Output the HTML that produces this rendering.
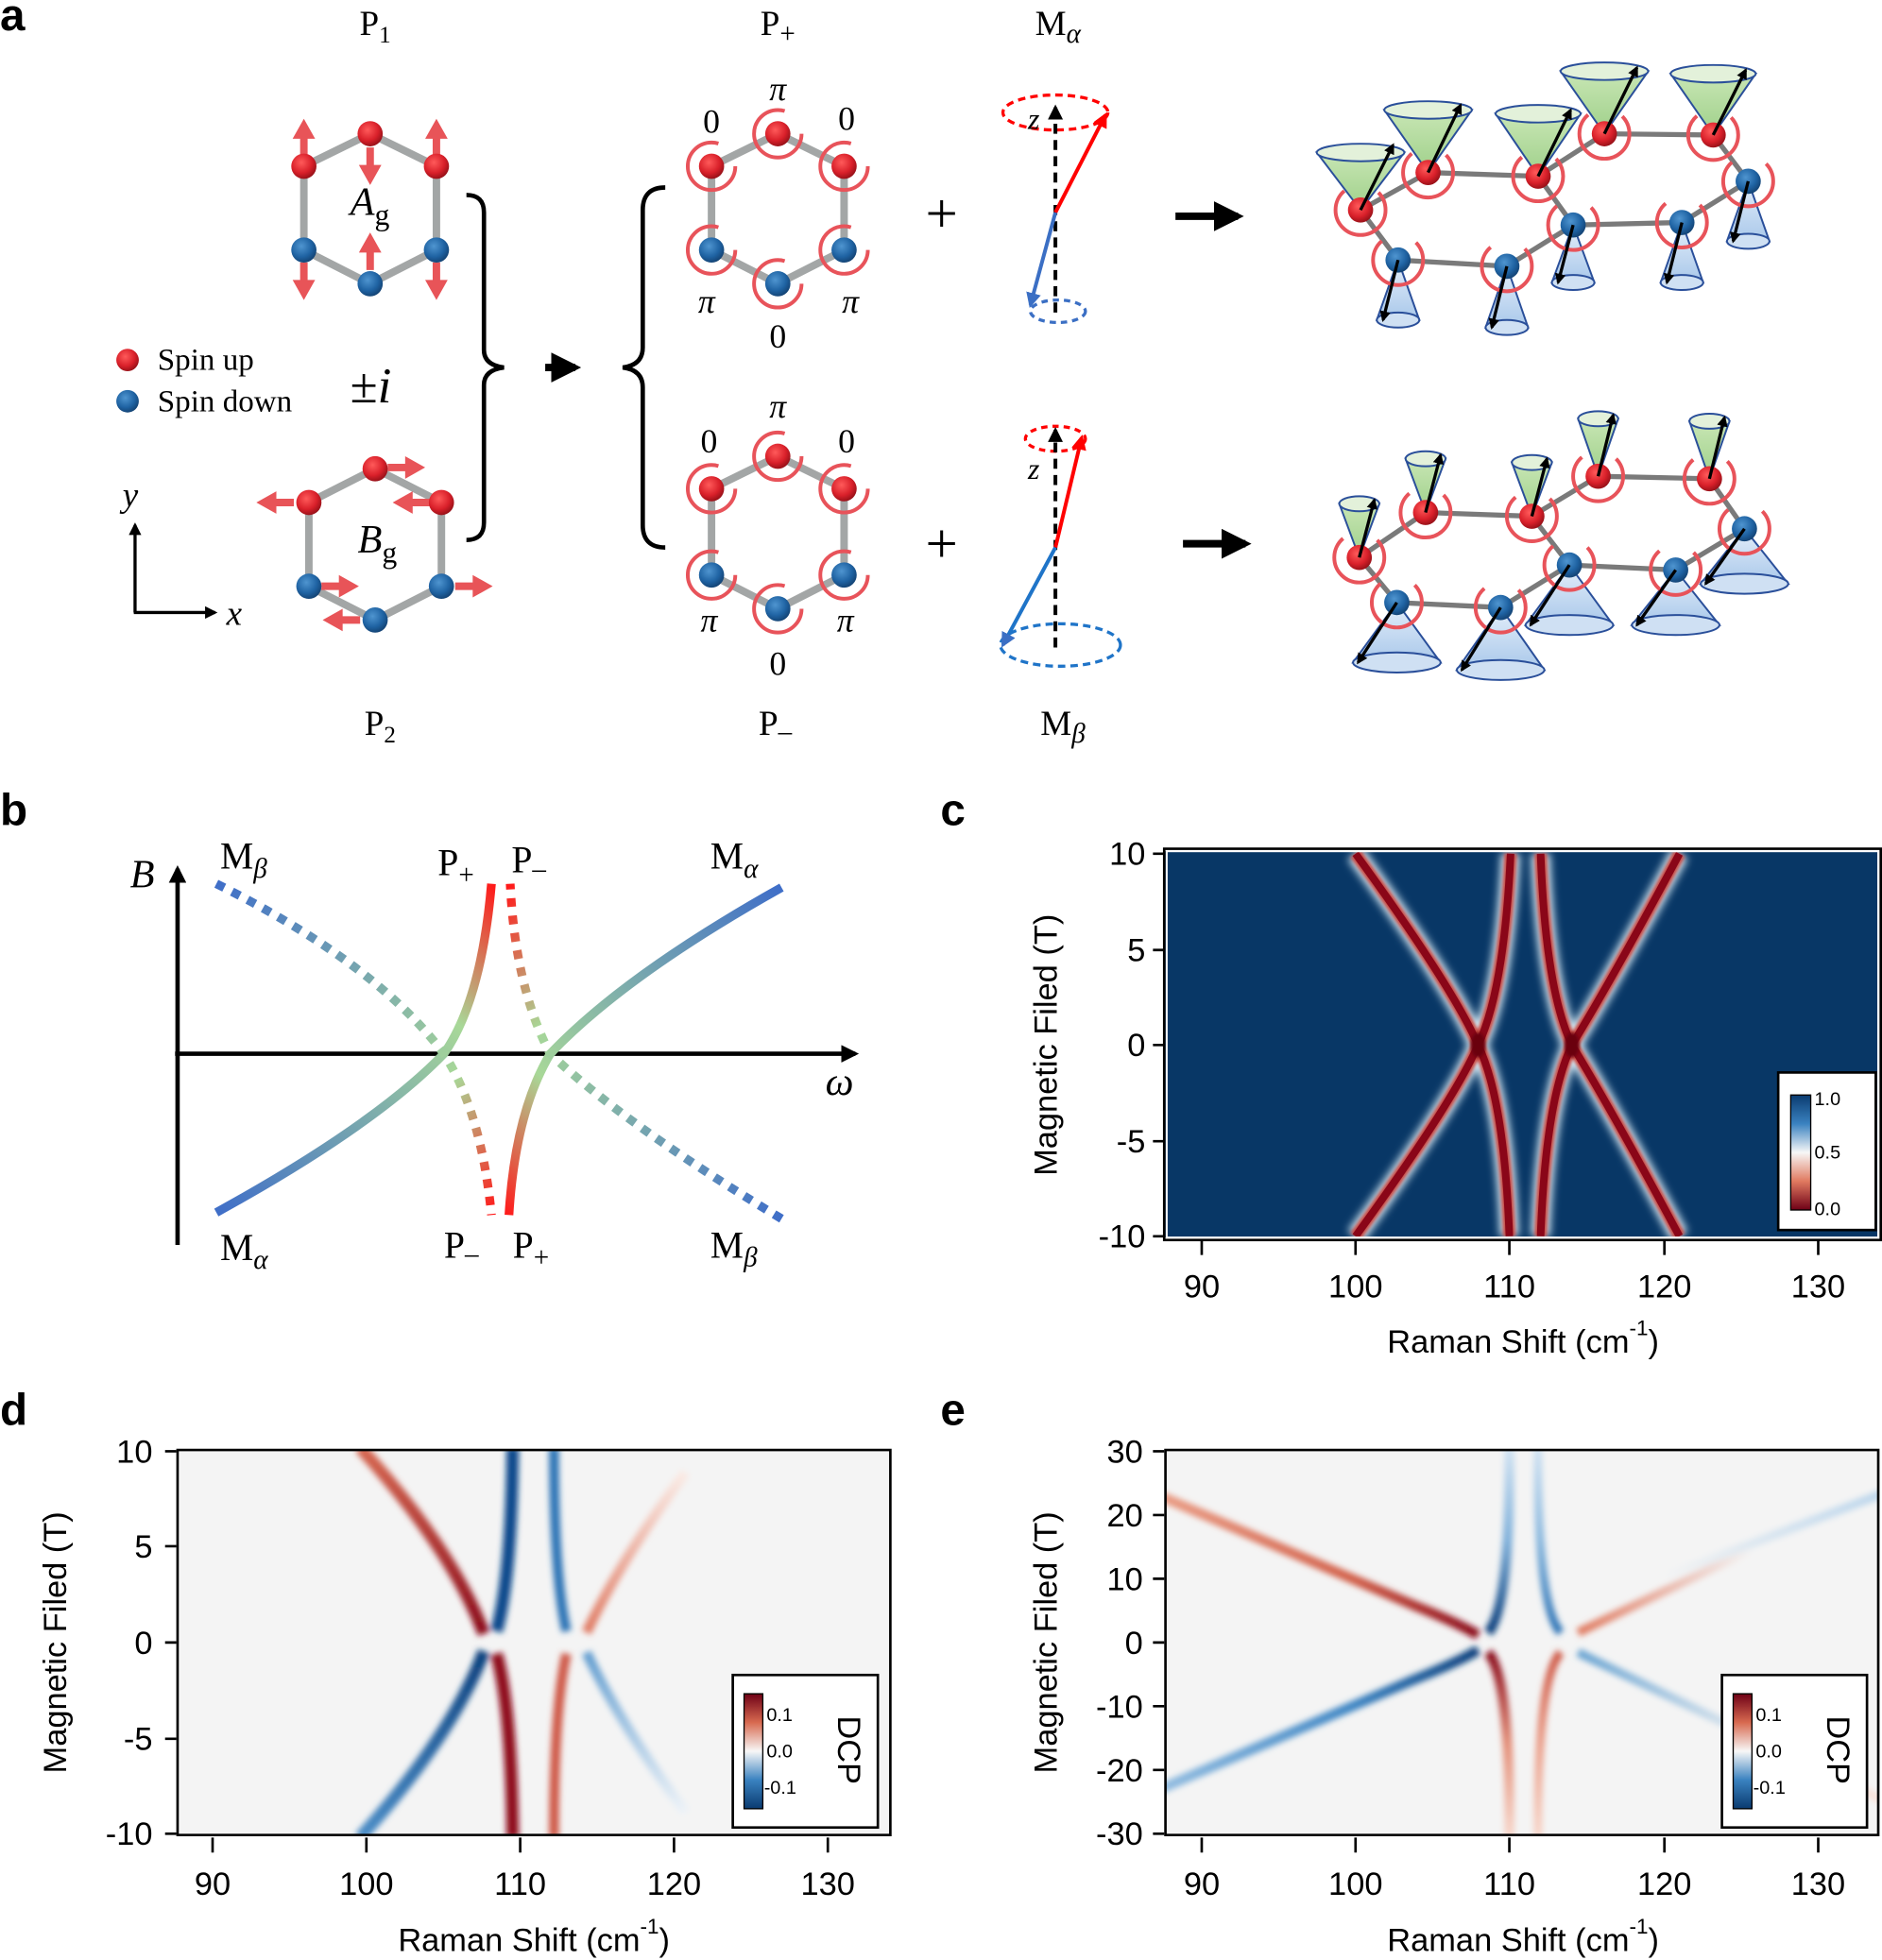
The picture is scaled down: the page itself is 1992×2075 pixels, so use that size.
<!DOCTYPE html>
<html><head><meta charset="utf-8"><style>
html,body{margin:0;padding:0;background:#fff;}
svg{display:block;}
.s{font-family:"Liberation Serif",serif;}
.a{font-family:"Liberation Sans",sans-serif;}
</style></head><body>
<svg width="1992" height="2075" viewBox="0 0 1505 1568" preserveAspectRatio="none" xmlns="http://www.w3.org/2000/svg">
<defs>
<radialGradient id="rs" cx="0.4" cy="0.35" r="0.7"><stop offset="0" stop-color="#ff5a5a"/><stop offset="0.6" stop-color="#d9202a"/><stop offset="1" stop-color="#8e0f16"/></radialGradient>
<radialGradient id="bs" cx="0.4" cy="0.35" r="0.7"><stop offset="0" stop-color="#4f95d0"/><stop offset="0.6" stop-color="#1f63a3"/><stop offset="1" stop-color="#123f6e"/></radialGradient>
<symbol id="R" viewBox="-12 -12 24 24" overflow="visible"><circle r="11" fill="url(#rs)"/></symbol>
<symbol id="B" viewBox="-12 -12 24 24" overflow="visible"><circle r="11" fill="url(#bs)"/></symbol>
<linearGradient id="gc" x1="0" y1="0" x2="0" y2="1"><stop offset="0" stop-color="#c8e6b4"/><stop offset="1" stop-color="#9fd08a"/></linearGradient>
<linearGradient id="bc" x1="0" y1="0" x2="0" y2="1"><stop offset="0" stop-color="#e4eefa"/><stop offset="1" stop-color="#a9c8ea"/></linearGradient>
<linearGradient id="cb1" x1="0" y1="0" x2="0" y2="1"><stop offset="0" stop-color="#0a3b70"/><stop offset="0.25" stop-color="#3a82c0"/><stop offset="0.5" stop-color="#f7f7f7"/><stop offset="0.75" stop-color="#e07a60"/><stop offset="1" stop-color="#6e0016"/></linearGradient>
<linearGradient id="cb2" x1="0" y1="0" x2="0" y2="1"><stop offset="0" stop-color="#6e0016"/><stop offset="0.25" stop-color="#d86a50"/><stop offset="0.5" stop-color="#f7f7f7"/><stop offset="0.75" stop-color="#3a82c0"/><stop offset="1" stop-color="#0a3b70"/></linearGradient>
<filter id="bl" x="-20%" y="-20%" width="140%" height="140%"><feGaussianBlur stdDeviation="2.5"/></filter>
<filter id="bl3" x="-20%" y="-20%" width="140%" height="140%"><feGaussianBlur stdDeviation="3.5"/></filter>
<filter id="bl2" x="-20%" y="-20%" width="140%" height="140%"><feGaussianBlur stdDeviation="1.2"/></filter>
<clipPath id="cc"><rect x="932" y="681" width="570" height="309"/></clipPath>
<clipPath id="cd"><rect x="142" y="1160" width="570" height="308"/></clipPath>
<clipPath id="ce"><rect x="932" y="1160" width="570" height="308"/></clipPath>
<linearGradient id="g1" gradientUnits="userSpaceOnUse" x1="173" y1="970" x2="393" y2="707"><stop offset="0" stop-color="#3f6ec8"/><stop offset="0.7" stop-color="#a8d898"/><stop offset="1" stop-color="#ff1a1a"/></linearGradient>
<linearGradient id="g2" gradientUnits="userSpaceOnUse" x1="625" y1="710" x2="405" y2="972"><stop offset="0" stop-color="#3f6ec8"/><stop offset="0.7" stop-color="#a8d898"/><stop offset="1" stop-color="#ff1a1a"/></linearGradient>
<linearGradient id="g3" gradientUnits="userSpaceOnUse" x1="173" y1="707" x2="393" y2="972"><stop offset="0" stop-color="#3f6ec8"/><stop offset="0.7" stop-color="#a8d898"/><stop offset="1" stop-color="#ff1a1a"/></linearGradient>
<linearGradient id="g4" gradientUnits="userSpaceOnUse" x1="625" y1="975" x2="410" y2="707"><stop offset="0" stop-color="#3f6ec8"/><stop offset="0.7" stop-color="#a8d898"/><stop offset="1" stop-color="#ff1a1a"/></linearGradient>
<!-- d gradients -->
<linearGradient id="dRt" gradientUnits="userSpaceOnUse" x1="0" y1="1160" x2="0" y2="1310"><stop offset="0" stop-color="#d56650"/><stop offset="1" stop-color="#8a0a1a"/></linearGradient>
<linearGradient id="dBb" gradientUnits="userSpaceOnUse" x1="0" y1="1468" x2="0" y2="1318"><stop offset="0" stop-color="#4a8cc6"/><stop offset="1" stop-color="#0b3f7c"/></linearGradient>
<linearGradient id="dRr" gradientUnits="userSpaceOnUse" x1="0" y1="1180" x2="0" y2="1310"><stop offset="0" stop-color="#faeae4"/><stop offset="1" stop-color="#df7860"/></linearGradient>
<linearGradient id="dBr" gradientUnits="userSpaceOnUse" x1="0" y1="1450" x2="0" y2="1318"><stop offset="0" stop-color="#eef3f8"/><stop offset="1" stop-color="#5e9bcf"/></linearGradient>
<linearGradient id="eRl" gradientUnits="userSpaceOnUse" x1="932" y1="0" x2="1182" y2="0"><stop offset="0" stop-color="#e99a82"/><stop offset="0.6" stop-color="#d2604a"/><stop offset="1" stop-color="#8a0a1a"/></linearGradient>
<linearGradient id="eBl" gradientUnits="userSpaceOnUse" x1="932" y1="0" x2="1182" y2="0"><stop offset="0" stop-color="#8fbbe0"/><stop offset="0.6" stop-color="#3f86c4"/><stop offset="1" stop-color="#0b3f7c"/></linearGradient>
<linearGradient id="eBt" gradientUnits="userSpaceOnUse" x1="0" y1="1160" x2="0" y2="1306"><stop offset="0" stop-color="#d0e2f2"/><stop offset="0.5" stop-color="#7fb0da"/><stop offset="1" stop-color="#0b3f7c"/></linearGradient>
<linearGradient id="eBt2" gradientUnits="userSpaceOnUse" x1="0" y1="1160" x2="0" y2="1306"><stop offset="0" stop-color="#d0e2f2"/><stop offset="0.5" stop-color="#8ab8de"/><stop offset="1" stop-color="#2e74b6"/></linearGradient>
<linearGradient id="eRb" gradientUnits="userSpaceOnUse" x1="0" y1="1468" x2="0" y2="1322"><stop offset="0" stop-color="#f7d6ca"/><stop offset="0.5" stop-color="#e4907a"/><stop offset="1" stop-color="#8a0a1a"/></linearGradient>
<linearGradient id="eRb2" gradientUnits="userSpaceOnUse" x1="0" y1="1468" x2="0" y2="1322"><stop offset="0" stop-color="#f7d6ca"/><stop offset="0.5" stop-color="#eba28e"/><stop offset="1" stop-color="#cf5a48"/></linearGradient>
<linearGradient id="eRr" gradientUnits="userSpaceOnUse" x1="1262" y1="0" x2="1400" y2="0"><stop offset="0" stop-color="#e07a60"/><stop offset="1" stop-color="#f4f4f4"/></linearGradient>
<linearGradient id="eBr" gradientUnits="userSpaceOnUse" x1="1262" y1="0" x2="1420" y2="0"><stop offset="0" stop-color="#6aa4d2"/><stop offset="1" stop-color="#f4f4f4"/></linearGradient>
<linearGradient id="eBr2" gradientUnits="userSpaceOnUse" x1="1330" y1="0" x2="1505" y2="0"><stop offset="0" stop-color="#f4f4f4"/><stop offset="1" stop-color="#bcd6ec"/></linearGradient>
<marker id="ar" viewBox="0 0 10 10" refX="8" refY="5" markerWidth="4" markerHeight="4" orient="auto"><path d="M0,0L10,5L0,10z" fill="#000"/></marker>
<marker id="arR" viewBox="0 0 10 10" refX="8" refY="5" markerWidth="4" markerHeight="4" orient="auto"><path d="M0,0L10,5L0,10z" fill="#f00"/></marker>
<marker id="arB" viewBox="0 0 10 10" refX="8" refY="5" markerWidth="4" markerHeight="4" orient="auto"><path d="M0,0L10,5L0,10z" fill="#3b6fc4"/></marker>
<marker id="arK" viewBox="0 0 10 10" refX="8" refY="5" markerWidth="3.5" markerHeight="3.5" orient="auto"><path d="M0,0L10,5L0,10z" fill="#000"/></marker>
</defs>

<!-- ================= PANEL A ================= -->
<text x="0" y="24" class="a" font-size="36" font-weight="bold">a</text>
<g class="s" font-size="28" text-anchor="middle">
<text x="300" y="28">P<tspan font-size="19" dy="6">1</tspan></text>
<text x="622" y="28">P<tspan font-size="22" dy="6">+</tspan></text>
<text x="846" y="28">M<tspan font-size="22" dy="6" font-style="italic">α</tspan></text>
<text x="304" y="588">P<tspan font-size="19" dy="6">2</tspan></text>
<text x="620" y="588">P<tspan font-size="22" dy="4">–</tspan></text>
<text x="850" y="588">M<tspan font-size="22" dy="6" font-style="italic">β</tspan></text>
</g>
<polygon points="296,107 349,133 349,200 296,227 243,200 243,133" fill="none" stroke="#a3a6a6" stroke-width="6"/>
<g fill="#e85458">
<path d="M243,95 l-9,16 h6 v14 h6 v-14 h6z"/><path d="M349,95 l-9,16 h6 v14 h6 v-14 h6z"/>
<path d="M296,148 l-9,-16 h6 v-14 h6 v14 h6z"/>
<path d="M243,240 l-9,-16 h6 v-14 h6 v14 h6z"/><path d="M349,240 l-9,-16 h6 v-14 h6 v14 h6z"/>
<path d="M296,186 l-9,16 h6 v14 h6 v-14 h6z"/>
</g>
<use href="#R" x="285" y="96" width="22" height="22"/><use href="#R" x="232" y="122" width="22" height="22"/><use href="#R" x="338" y="122" width="22" height="22"/>
<use href="#B" x="232" y="189" width="22" height="22"/><use href="#B" x="338" y="189" width="22" height="22"/><use href="#B" x="285" y="216" width="22" height="22"/>
<text x="280" y="172" class="s" font-size="32" font-style="italic">A<tspan font-size="24" font-style="normal" dy="8">g</tspan></text>
<polygon points="300,375 353,402 353,469 300,496 247,469 247,402" fill="none" stroke="#a3a6a6" stroke-width="6"/>
<g fill="#e85458">
<path d="M340,374 l-16,-9 v6 h-14 v6 h14 v6z"/>
<path d="M205,402 l16,-9 v6 h14 v6 h-14 v6z"/>
<path d="M314,402 l16,-9 v6 h14 v6 h-14 v6z"/>
<path d="M287,469 l-16,-9 v6 h-14 v6 h14 v6z"/>
<path d="M394,469 l-16,-9 v6 h-14 v6 h14 v6z"/>
<path d="M258,496 l16,-9 v6 h14 v6 h-14 v6z"/>
</g>
<use href="#R" x="289" y="364" width="22" height="22"/><use href="#R" x="236" y="391" width="22" height="22"/><use href="#R" x="342" y="391" width="22" height="22"/>
<use href="#B" x="236" y="458" width="22" height="22"/><use href="#B" x="342" y="458" width="22" height="22"/><use href="#B" x="289" y="485" width="22" height="22"/>
<text x="286" y="442" class="s" font-size="32" font-style="italic">B<tspan font-size="24" font-style="normal" dy="8">g</tspan></text>
<circle cx="102" cy="288" r="9" fill="url(#rs)"/><circle cx="102" cy="321" r="9" fill="url(#bs)"/>
<text x="126" y="296" class="s" font-size="25">Spin up</text>
<text x="126" y="329" class="s" font-size="25">Spin down</text>
<text x="280" y="322" class="s" font-size="40">±<tspan font-style="italic">i</tspan></text>
<path d="M108,490 V420" stroke="#000" stroke-width="2.5" marker-end="url(#ar)"/>
<path d="M107,490 H172" stroke="#000" stroke-width="2.5" marker-end="url(#ar)"/>
<text x="98" y="405" class="s" font-size="28" font-style="italic">y</text>
<text x="181" y="500" class="s" font-size="28" font-style="italic">x</text>
<path d="M373,156 q14,0 14,14 v110 q0,12 16,14 q-16,2 -16,14 v110 q0,14 -14,14" fill="none" stroke="#000" stroke-width="3.5"/>
<path d="M532,150 q-18,0 -18,18 v110 q0,14 -16,16 q16,2 16,16 v110 q0,18 18,18" fill="none" stroke="#000" stroke-width="3.5"/>
<path d="M436,294 H460" stroke="#000" stroke-width="6" marker-end="url(#ar)"/>
<polygon points="622,107 675,133 675,200 622,227 569,200 569,133" fill="none" stroke="#a3a6a6" stroke-width="6"/>
<g fill="none" stroke="#e8535a" stroke-width="3">
<circle cx="622" cy="107" r="19" stroke-dasharray="95 25"/><circle cx="675" cy="133" r="19" stroke-dasharray="95 25"/><circle cx="569" cy="133" r="19" stroke-dasharray="95 25"/>
<circle cx="675" cy="200" r="19" stroke-dasharray="95 25"/><circle cx="569" cy="200" r="19" stroke-dasharray="95 25"/><circle cx="622" cy="227" r="19" stroke-dasharray="95 25"/>
</g>
<use href="#R" x="611" y="96" width="22" height="22"/><use href="#R" x="558" y="122" width="22" height="22"/><use href="#R" x="664" y="122" width="22" height="22"/>
<use href="#B" x="558" y="189" width="22" height="22"/><use href="#B" x="664" y="189" width="22" height="22"/><use href="#B" x="611" y="216" width="22" height="22"/>
<g class="s" font-size="27" text-anchor="middle"><text x="622" y="80" font-style="italic">π</text><text x="569" y="106">0</text><text x="677" y="104">0</text><text x="565" y="250" font-style="italic">π</text><text x="680" y="250" font-style="italic">π</text><text x="622" y="278">0</text></g>
<polygon points="622,365 675,391 675,460 622,487 569,460 569,391" fill="none" stroke="#a3a6a6" stroke-width="6"/>
<g fill="none" stroke="#e8535a" stroke-width="3">
<circle cx="622" cy="365" r="19" stroke-dasharray="95 25"/><circle cx="675" cy="391" r="19" stroke-dasharray="95 25"/><circle cx="569" cy="391" r="19" stroke-dasharray="95 25"/>
<circle cx="675" cy="460" r="19" stroke-dasharray="95 25"/><circle cx="569" cy="460" r="19" stroke-dasharray="95 25"/><circle cx="622" cy="487" r="19" stroke-dasharray="95 25"/>
</g>
<use href="#R" x="611" y="354" width="22" height="22"/><use href="#R" x="558" y="380" width="22" height="22"/><use href="#R" x="664" y="380" width="22" height="22"/>
<use href="#B" x="558" y="449" width="22" height="22"/><use href="#B" x="664" y="449" width="22" height="22"/><use href="#B" x="611" y="476" width="22" height="22"/>
<g class="s" font-size="27" text-anchor="middle"><text x="622" y="334" font-style="italic">π</text><text x="567" y="362">0</text><text x="677" y="362">0</text><text x="567" y="505" font-style="italic">π</text><text x="676" y="505" font-style="italic">π</text><text x="622" y="540">0</text></g>
<text x="753" y="186" class="s" font-size="46" text-anchor="middle">+</text>
<text x="753" y="450" class="s" font-size="46" text-anchor="middle">+</text>
<ellipse cx="844" cy="90" rx="42" ry="14" fill="none" stroke="#f00" stroke-width="2.5" stroke-dasharray="6 4"/>
<ellipse cx="846" cy="249" rx="22" ry="9" fill="none" stroke="#3b6fc4" stroke-width="2.5" stroke-dasharray="5 4"/>
<path d="M844,250 V86" stroke="#000" stroke-width="3" stroke-dasharray="8 5" marker-end="url(#ar)"/>
<path d="M844,170 L884,92" stroke="#f00" stroke-width="3" marker-end="url(#arR)"/>
<path d="M844,170 L824,244" stroke="#3b6fc4" stroke-width="3" marker-end="url(#arB)"/>
<text x="822" y="103" class="s" font-size="24" font-style="italic">z</text>
<ellipse cx="844" cy="351" rx="24" ry="10" fill="none" stroke="#f00" stroke-width="2.5" stroke-dasharray="5 4"/>
<ellipse cx="848" cy="516" rx="48" ry="17" fill="none" stroke="#1f74c8" stroke-width="2.5" stroke-dasharray="6 4"/>
<path d="M844,518 V344" stroke="#000" stroke-width="3" stroke-dasharray="8 5" marker-end="url(#ar)"/>
<path d="M844,438 L865,350" stroke="#f00" stroke-width="3" marker-end="url(#arR)"/>
<path d="M844,438 L802,516" stroke="#1f74c8" stroke-width="3" marker-end="url(#arB)"/>
<text x="822" y="383" class="s" font-size="24" font-style="italic">z</text>
<path d="M940,173 H990" stroke="#000" stroke-width="6" marker-end="url(#ar)"/>
<path d="M946,435 H996" stroke="#000" stroke-width="6" marker-end="url(#ar)"/>
<!-- upper lattice -->
<g stroke="#7a7a7a" stroke-width="4" fill="none">
<path d="M1088,168 L1142,138 L1230,141 L1283,107 L1370,108 L1398,145 L1345,178 L1258,180 L1205,213 L1118,208 L1088,168"/>
<path d="M1230,141 L1258,180"/>
</g>
<g stroke="#2a4f9a" stroke-width="1.5">
<path d="M1053,122 L1088,168 L1123,122z" fill="url(#gc)"/><ellipse cx="1088" cy="122" rx="35" ry="7" fill="#e3f1da"/>
<path d="M1107,88 L1142,138 L1177,88z" fill="url(#gc)"/><ellipse cx="1142" cy="88" rx="35" ry="7" fill="#e3f1da"/>
<path d="M1196,91 L1230,141 L1264,91z" fill="url(#gc)"/><ellipse cx="1230" cy="91" rx="34" ry="7" fill="#e3f1da"/>
<path d="M1248,57 L1283,107 L1318,57z" fill="url(#gc)"/><ellipse cx="1283" cy="57" rx="35" ry="7" fill="#e3f1da"/>
<path d="M1336,59 L1370,108 L1404,59z" fill="url(#gc)"/><ellipse cx="1370" cy="59" rx="34" ry="7" fill="#e3f1da"/>
<path d="M1118,208 L1101,256 L1135,256z" fill="url(#bc)"/><ellipse cx="1118" cy="256" rx="17" ry="6" fill="#cfe0f3"/>
<path d="M1205,213 L1188,262 L1222,262z" fill="url(#bc)"/><ellipse cx="1205" cy="262" rx="17" ry="6" fill="#cfe0f3"/>
<path d="M1258,180 L1241,226 L1275,226z" fill="url(#bc)"/><ellipse cx="1258" cy="226" rx="17" ry="6" fill="#cfe0f3"/>
<path d="M1345,178 L1328,226 L1362,226z" fill="url(#bc)"/><ellipse cx="1345" cy="226" rx="17" ry="6" fill="#cfe0f3"/>
<path d="M1398,145 L1381,193 L1415,193z" fill="url(#bc)"/><ellipse cx="1398" cy="193" rx="17" ry="6" fill="#cfe0f3"/>
</g>
<g fill="none" stroke="#e8535a" stroke-width="3" stroke-dasharray="80 30">
<circle cx="1088" cy="168" r="20"/><circle cx="1142" cy="138" r="20"/><circle cx="1230" cy="141" r="20"/><circle cx="1283" cy="107" r="20"/><circle cx="1370" cy="108" r="20"/>
<circle cx="1118" cy="208" r="20"/><circle cx="1205" cy="213" r="20"/><circle cx="1258" cy="180" r="20"/><circle cx="1345" cy="178" r="20"/><circle cx="1398" cy="145" r="20"/>
</g>
<use href="#R" x="1077" y="157" width="22" height="22"/><use href="#R" x="1131" y="127" width="22" height="22"/><use href="#R" x="1219" y="130" width="22" height="22"/><use href="#R" x="1272" y="96" width="22" height="22"/><use href="#R" x="1359" y="97" width="22" height="22"/>
<use href="#B" x="1107" y="197" width="22" height="22"/><use href="#B" x="1194" y="202" width="22" height="22"/><use href="#B" x="1247" y="169" width="22" height="22"/><use href="#B" x="1334" y="167" width="22" height="22"/><use href="#B" x="1387" y="134" width="22" height="22"/>
<g stroke="#000" stroke-width="2.5">
<path d="M1088,168 L1114,116" marker-end="url(#arK)"/><path d="M1142,138 L1168,84" marker-end="url(#arK)"/><path d="M1230,141 L1256,88" marker-end="url(#arK)"/><path d="M1283,107 L1309,54" marker-end="url(#arK)"/><path d="M1370,108 L1396,56" marker-end="url(#arK)"/>
<path d="M1118,208 L1106,256" marker-end="url(#arK)"/><path d="M1205,213 L1193,262" marker-end="url(#arK)"/><path d="M1258,180 L1246,226" marker-end="url(#arK)"/><path d="M1345,178 L1333,226" marker-end="url(#arK)"/><path d="M1398,145 L1386,193" marker-end="url(#arK)"/>
</g>
<!-- lower lattice -->
<g stroke="#7a7a7a" stroke-width="4" fill="none">
<path d="M1087,446 L1140,410 L1225,413 L1278,381 L1367,383 L1395,423 L1340,456 L1255,452 L1200,486 L1117,482 L1087,446"/>
<path d="M1225,413 L1255,452"/>
</g>
<g stroke="#2a4f9a" stroke-width="1.5">
<path d="M1071,403 L1087,446 L1103,403z" fill="url(#gc)"/><ellipse cx="1087" cy="403" rx="16" ry="6" fill="#e3f1da"/>
<path d="M1124,367 L1140,410 L1156,367z" fill="url(#gc)"/><ellipse cx="1140" cy="367" rx="16" ry="6" fill="#e3f1da"/>
<path d="M1209,370 L1225,413 L1241,370z" fill="url(#gc)"/><ellipse cx="1225" cy="370" rx="16" ry="6" fill="#e3f1da"/>
<path d="M1262,335 L1278,381 L1294,335z" fill="url(#gc)"/><ellipse cx="1278" cy="335" rx="16" ry="6" fill="#e3f1da"/>
<path d="M1351,337 L1367,383 L1383,337z" fill="url(#gc)"/><ellipse cx="1367" cy="337" rx="16" ry="6" fill="#e3f1da"/>
<path d="M1117,482 L1082,530 L1152,530z" fill="url(#bc)"/><ellipse cx="1117" cy="530" rx="35" ry="8" fill="#cfe0f3"/>
<path d="M1200,486 L1165,536 L1235,536z" fill="url(#bc)"/><ellipse cx="1200" cy="536" rx="35" ry="8" fill="#cfe0f3"/>
<path d="M1255,452 L1220,500 L1290,500z" fill="url(#bc)"/><ellipse cx="1255" cy="500" rx="35" ry="8" fill="#cfe0f3"/>
<path d="M1340,456 L1305,500 L1375,500z" fill="url(#bc)"/><ellipse cx="1340" cy="500" rx="35" ry="8" fill="#cfe0f3"/>
<path d="M1395,423 L1360,467 L1430,467z" fill="url(#bc)"/><ellipse cx="1395" cy="467" rx="35" ry="8" fill="#cfe0f3"/>
</g>
<g fill="none" stroke="#e8535a" stroke-width="3" stroke-dasharray="80 30">
<circle cx="1087" cy="446" r="20"/><circle cx="1140" cy="410" r="20"/><circle cx="1225" cy="413" r="20"/><circle cx="1278" cy="381" r="20"/><circle cx="1367" cy="383" r="20"/>
<circle cx="1117" cy="482" r="20"/><circle cx="1200" cy="486" r="20"/><circle cx="1255" cy="452" r="20"/><circle cx="1340" cy="456" r="20"/><circle cx="1395" cy="423" r="20"/>
</g>
<use href="#R" x="1076" y="435" width="22" height="22"/><use href="#R" x="1129" y="399" width="22" height="22"/><use href="#R" x="1214" y="402" width="22" height="22"/><use href="#R" x="1267" y="370" width="22" height="22"/><use href="#R" x="1356" y="372" width="22" height="22"/>
<use href="#B" x="1106" y="471" width="22" height="22"/><use href="#B" x="1189" y="475" width="22" height="22"/><use href="#B" x="1244" y="441" width="22" height="22"/><use href="#B" x="1329" y="445" width="22" height="22"/><use href="#B" x="1384" y="412" width="22" height="22"/>
<g stroke="#000" stroke-width="2.5">
<path d="M1087,446 L1099,400" marker-end="url(#arK)"/><path d="M1140,410 L1152,364" marker-end="url(#arK)"/><path d="M1225,413 L1237,367" marker-end="url(#arK)"/><path d="M1278,381 L1290,332" marker-end="url(#arK)"/><path d="M1367,383 L1379,334" marker-end="url(#arK)"/>
<path d="M1117,482 L1086,530" marker-end="url(#arK)"/><path d="M1200,486 L1169,536" marker-end="url(#arK)"/><path d="M1255,452 L1224,500" marker-end="url(#arK)"/><path d="M1340,456 L1309,500" marker-end="url(#arK)"/><path d="M1395,423 L1364,467" marker-end="url(#arK)"/>
</g>

<!-- ================= PANEL B ================= -->
<text x="0" y="660" class="a" font-size="36" font-weight="bold">b</text>
<path d="M142,996 V695" stroke="#000" stroke-width="3.5" marker-end="url(#ar)"/>
<path d="M140,843 H684" stroke="#000" stroke-width="3.5" marker-end="url(#ar)"/>
<text x="104" y="710" class="s" font-size="32" font-style="italic">B</text>
<text x="660" y="876" class="s" font-size="32" font-style="italic">ω</text>
<path d="M173,970 Q300,900 355,843 Q385,800 393,707" fill="none" stroke="url(#g1)" stroke-width="7"/>
<path d="M625,710 Q500,780 440,843 Q412,890 407,972" fill="none" stroke="url(#g2)" stroke-width="7"/>
<path d="M173,707 Q300,770 355,843 Q385,890 393,972" fill="none" stroke="url(#g3)" stroke-width="7" stroke-dasharray="7 7"/>
<path d="M625,975 Q500,900 440,843 Q412,790 408,707" fill="none" stroke="url(#g4)" stroke-width="7" stroke-dasharray="7 7"/>
<g class="s" font-size="30">
<text x="176" y="695">M<tspan font-size="22" dy="7" font-style="italic">β</tspan></text>
<text x="350" y="700">P<tspan font-size="22" dy="7">+</tspan></text>
<text x="409" y="698">P<tspan font-size="22" dy="4">–</tspan></text>
<text x="568" y="695">M<tspan font-size="22" dy="7" font-style="italic">α</tspan></text>
<text x="176" y="1008">M<tspan font-size="22" dy="7" font-style="italic">α</tspan></text>
<text x="355" y="1006">P<tspan font-size="22" dy="4">–</tspan></text>
<text x="410" y="1006">P<tspan font-size="22" dy="7">+</tspan></text>
<text x="568" y="1006">M<tspan font-size="22" dy="7" font-style="italic">β</tspan></text>
</g>

<!-- ================= PANEL C ================= -->
<text x="752" y="660" class="a" font-size="36" font-weight="bold">c</text>
<rect x="932" y="681" width="570" height="309" fill="#083766"/>
<g clip-path="url(#cc)" fill="none">
<g stroke="#d8ecf6" stroke-width="15" filter="url(#bl3)">
<path d="M1084,683 Q1162,790 1182,836 Q1203,880 1207,989"/><path d="M1208,683 Q1203,792 1182,836 Q1162,882 1084,989"/>
<path d="M1232,683 Q1236,792 1257,836 Q1290,890 1343,989"/><path d="M1343,683 Q1290,782 1257,836 Q1236,880 1232,989"/>
</g>
<g stroke="#c94b45" stroke-width="10" filter="url(#bl2)">
<path d="M1084,683 Q1162,790 1182,836 Q1203,880 1207,989"/><path d="M1208,683 Q1203,792 1182,836 Q1162,882 1084,989"/>
<path d="M1232,683 Q1236,792 1257,836 Q1290,890 1343,989"/><path d="M1343,683 Q1290,782 1257,836 Q1236,880 1232,989"/>
</g>
<g stroke="#8a0618" stroke-width="6">
<path d="M1084,683 Q1162,790 1182,836 Q1203,880 1207,989"/><path d="M1208,683 Q1203,792 1182,836 Q1162,882 1084,989"/>
<path d="M1232,683 Q1236,792 1257,836 Q1290,890 1343,989"/><path d="M1343,683 Q1290,782 1257,836 Q1236,880 1232,989"/>
</g>
<ellipse cx="1182" cy="836" rx="6" ry="10" fill="#6a0010" filter="url(#bl2)"/><ellipse cx="1257" cy="836" rx="6" ry="10" fill="#6a0010" filter="url(#bl2)"/>
</g>
<rect x="933" y="681" width="569" height="309" fill="none" stroke="#fff" stroke-width="1.5"/>
<rect x="931" y="679" width="573" height="313" fill="none" stroke="#000" stroke-width="2"/>
<rect x="1422" y="858" width="78" height="126" fill="#fff" stroke="#000" stroke-width="2"/>
<rect x="1432" y="876" width="16" height="92" fill="url(#cb1)" stroke="#000" stroke-width="1"/>
<g class="a" font-size="15"><text x="1451" y="884">1.0</text><text x="1451" y="927">0.5</text><text x="1451" y="972">0.0</text></g>
<g stroke="#000" stroke-width="2">
<path d="M922,683 H931 M922,760 H931 M922,836 H931 M922,913 H931 M922,989 H931"/>
<path d="M961,992 V1004 M1084,992 V1004 M1207,992 V1004 M1331,992 V1004 M1454,992 V1004"/>
</g>
<g class="a" font-size="26" text-anchor="end"><text x="916" y="692">10</text><text x="916" y="769">5</text><text x="916" y="845">0</text><text x="916" y="922">-5</text><text x="916" y="998">-10</text></g>
<g class="a" font-size="26" text-anchor="middle"><text x="961" y="1038">90</text><text x="1084" y="1038">100</text><text x="1207" y="1038">110</text><text x="1331" y="1038">120</text><text x="1454" y="1038">130</text></g>
<text x="1218" y="1082" class="a" font-size="26" text-anchor="middle">Raman Shift (cm<tspan font-size="17" dy="-14">-1</tspan><tspan dy="14">)</tspan></text>
<text transform="translate(845,836) rotate(-90)" class="a" font-size="26" text-anchor="middle">Magnetic Filed (T)</text>

<!-- ================= PANEL D ================= -->
<text x="0" y="1140" class="a" font-size="36" font-weight="bold">d</text>
<rect x="142" y="1160" width="570" height="308" fill="#f4f4f4"/>
<g clip-path="url(#cd)" fill="none" filter="url(#bl)">
<path d="M288,1158 Q362,1240 387,1307" stroke="url(#dRt)" stroke-width="10"/>
<path d="M288,1470 Q362,1388 387,1321" stroke="url(#dBb)" stroke-width="10"/>
<path d="M410,1158 Q409,1262 397,1305" stroke="#0d4a8c" stroke-width="10"/>
<path d="M443,1158 Q443,1262 453,1305" stroke="#2e74b6" stroke-width="8"/>
<path d="M410,1470 Q409,1366 397,1323" stroke="#8f0a1c" stroke-width="10"/>
<path d="M443,1470 Q443,1366 453,1323" stroke="#cf5a48" stroke-width="8"/>
<path d="M548,1178 Q495,1250 469,1306" stroke="url(#dRr)" stroke-width="8"/>
<path d="M548,1450 Q495,1378 469,1322" stroke="url(#dBr)" stroke-width="8"/>
</g>
<path d="M142,1160 H712 V1468 H142z" fill="none" stroke="#000" stroke-width="2"/>
<rect x="586" y="1340" width="116" height="122" fill="#fff" stroke="#000" stroke-width="2"/>
<rect x="595" y="1355" width="15" height="92" fill="url(#cb2)" stroke="#000" stroke-width="1"/>
<g class="a" font-size="15"><text x="613" y="1377">0.1</text><text x="613" y="1406">0.0</text><text x="611" y="1435">-0.1</text></g>
<text transform="translate(670,1400) rotate(90)" class="a" font-size="26" text-anchor="middle">DCP</text>
<g stroke="#000" stroke-width="2">
<path d="M132,1161 H141 M132,1237 H141 M132,1314 H141 M132,1391 H141 M132,1467 H141"/>
<path d="M170,1470 V1482 M293,1470 V1482 M416,1470 V1482 M539,1470 V1482 M662,1470 V1482"/>
</g>
<g class="a" font-size="26" text-anchor="end"><text x="122" y="1170">10</text><text x="122" y="1246">5</text><text x="122" y="1323">0</text><text x="122" y="1400">-5</text><text x="122" y="1476">-10</text></g>
<g class="a" font-size="26" text-anchor="middle"><text x="170" y="1516">90</text><text x="293" y="1516">100</text><text x="416" y="1516">110</text><text x="539" y="1516">120</text><text x="662" y="1516">130</text></g>
<text x="427" y="1561" class="a" font-size="26" text-anchor="middle">Raman Shift (cm<tspan font-size="17" dy="-14">-1</tspan><tspan dy="14">)</tspan></text>
<text transform="translate(53,1314) rotate(-90)" class="a" font-size="26" text-anchor="middle">Magnetic Filed (T)</text>

<!-- ================= PANEL E ================= -->
<text x="752" y="1140" class="a" font-size="36" font-weight="bold">e</text>
<rect x="932" y="1160" width="570" height="308" fill="#f4f4f4"/>
<g clip-path="url(#ce)" fill="none" filter="url(#bl)">
<path d="M926,1196 L1130,1284 Q1165,1298 1182,1308" stroke="url(#eRl)" stroke-width="8"/>
<path d="M926,1432 L1130,1344 Q1165,1330 1182,1320" stroke="url(#eBl)" stroke-width="8"/>
<path d="M1207,1158 Q1208,1285 1190,1306" stroke="url(#eBt)" stroke-width="8"/>
<path d="M1230,1158 Q1229,1285 1248,1306" stroke="url(#eBt2)" stroke-width="7"/>
<path d="M1207,1470 Q1208,1343 1190,1322" stroke="url(#eRb)" stroke-width="8"/>
<path d="M1230,1470 Q1229,1343 1248,1322" stroke="url(#eRb2)" stroke-width="7"/>
<path d="M1262,1306 L1400,1240" stroke="url(#eRr)" stroke-width="7"/>
<path d="M1330,1262 L1505,1195" stroke="url(#eBr2)" stroke-width="7"/>
<path d="M1262,1322 L1420,1398" stroke="url(#eBr)" stroke-width="7"/>
<path d="M1400,1388 L1505,1440" stroke="#f8e2da" stroke-width="7"/>
</g>
<path d="M932,1160 H1502 V1468 H932z" fill="none" stroke="#000" stroke-width="2"/>
<rect x="1377" y="1340" width="116" height="122" fill="#fff" stroke="#000" stroke-width="2"/>
<rect x="1386" y="1355" width="15" height="92" fill="url(#cb2)" stroke="#000" stroke-width="1"/>
<g class="a" font-size="15"><text x="1404" y="1377">0.1</text><text x="1404" y="1406">0.0</text><text x="1402" y="1435">-0.1</text></g>
<text transform="translate(1461,1400) rotate(90)" class="a" font-size="26" text-anchor="middle">DCP</text>
<g stroke="#000" stroke-width="2">
<path d="M922,1161 H931 M922,1212 H931 M922,1263 H931 M922,1314 H931 M922,1365 H931 M922,1416 H931 M922,1467 H931"/>
<path d="M961,1470 V1482 M1084,1470 V1482 M1207,1470 V1482 M1331,1470 V1482 M1454,1470 V1482"/>
</g>
<g class="a" font-size="26" text-anchor="end"><text x="914" y="1170">30</text><text x="914" y="1221">20</text><text x="914" y="1272">10</text><text x="914" y="1323">0</text><text x="914" y="1374">-10</text><text x="914" y="1425">-20</text><text x="914" y="1476">-30</text></g>
<g class="a" font-size="26" text-anchor="middle"><text x="961" y="1516">90</text><text x="1084" y="1516">100</text><text x="1207" y="1516">110</text><text x="1331" y="1516">120</text><text x="1454" y="1516">130</text></g>
<text x="1218" y="1561" class="a" font-size="26" text-anchor="middle">Raman Shift (cm<tspan font-size="17" dy="-14">-1</tspan><tspan dy="14">)</tspan></text>
<text transform="translate(845,1314) rotate(-90)" class="a" font-size="26" text-anchor="middle">Magnetic Filed (T)</text>
</svg>
</body></html>
